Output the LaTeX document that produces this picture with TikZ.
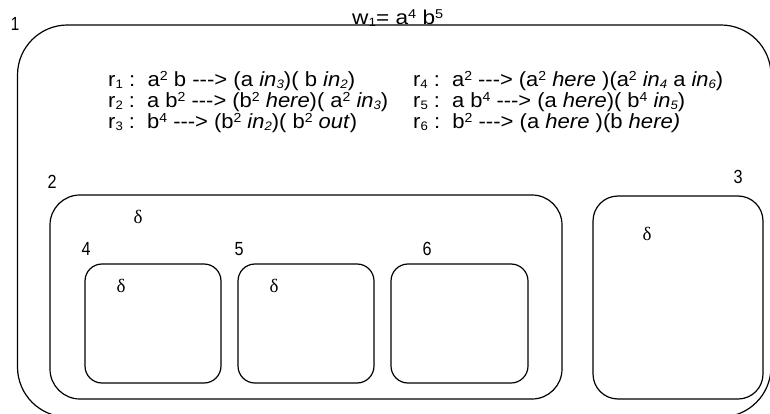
\documentclass[tikz,border=0pt]{standalone}
\usepackage{fontspec}
\setmainfont{Liberation Sans}
\newfontfamily\serifdelta{Liberation Serif}
\newcommand{\arr}{\mbox{-}\mbox{-}\mbox{-}>}
\newcommand{\sps}[1]{\raisebox{0.32em}{\fontsize{0.64em}{1em}\selectfont #1}}
\newcommand{\sbs}[1]{\raisebox{-0.08em}{\fontsize{0.6em}{1em}\selectfont #1}}
\newsavebox\fitbox
\newcommand{\fitw}[2]{\sbox\fitbox{#2}\edef\fitnat{\the\wd\fitbox}\pgfmathsetmacro\fitsc{#1/\fitnat}\scalebox{\fitsc}[1]{\usebox\fitbox}}
\begin{document}
\begin{tikzpicture}[x=1pt,y=-1pt,
  membrane/.style={draw=black,line width=1.2pt},
  lbl/.style={inner sep=0pt,font=\fontsize{19}{20}\selectfont},
  dlt/.style={inner sep=0pt,font=\serifdelta\fontsize{19}{20}\selectfont},
  rule/.style={inner sep=0pt,anchor=base west,font=\fontsize{20.5}{22}\selectfont}]
\useasboundingbox (0,0) rectangle (770,414);
\clip (0,0) rectangle (770,414);
% outer membrane 1
\draw[membrane,rounded corners=50pt] (17.5,25) rectangle (771,417);
\node[lbl] (l1) at (15,24) {\fitw{8.5}{1}};
\node[inner sep=0pt,anchor=base west,font=\fontsize{20}{22}\selectfont] (w) at (352,24.5) {\fitw{91}{w\sbs{1}= a\sps{4} b\sps{5}}};
% rules
\node[rule] (r1) at (108,87) {\fitw{247}{r\sbs{1} :\ \ a\sps{2} b \arr{} (a \textit{in\sbs{3}})( b \textit{in\sbs{2}})}};
\node[rule] (r2) at (108,108) {\fitw{280}{r\sbs{2} :\ \ a b\sps{2} \arr{} (b\sps{2} \textit{here})( a\sps{2} \textit{in\sbs{3}})}};
\node[rule] (r3) at (108,129) {\fitw{249}{r\sbs{3} :\ \ b\sps{4} \arr{} (b\sps{2} \textit{in\sbs{2}})( b\sps{2} \textit{out})}};
\node[rule] (r4) at (413,87) {\fitw{310}{r\sbs{4} :\ \ a\sps{2} \arr{} (a\sps{2} \textit{here} )(a\sps{2} \textit{in\sbs{4}} a \textit{in\sbs{6}})}};
\node[rule] (r5) at (413,108) {\fitw{272}{r\sbs{5} :\ \ a b\sps{4} \arr{} (a \textit{here})( b\sps{4} \textit{in\sbs{5}})}};
\node[rule] (r6) at (413,129) {\fitw{267}{r\sbs{6} :\ \ b\sps{2} \arr{} (a \textit{here} )(b \textit{here)}}};
% membrane 2
\draw[membrane,rounded corners=30pt] (50,195) rectangle (562,399);
\node[lbl] (l2) at (52,182) {\fitw{9}{2}};
\node[dlt] (d2) at (138,217) {δ};
% membrane 4
\draw[membrane,rounded corners=17pt] (85,264) rectangle (221,383);
\node[lbl] (l4) at (86,249) {\fitw{9}{4}};
\node[dlt] (d4) at (121,286) {δ};
% membrane 5
\draw[membrane,rounded corners=17pt] (238,264) rectangle (374,383);
\node[lbl] (l5) at (239,249) {\fitw{9}{5}};
\node[dlt] (d5) at (274,286) {δ};
% membrane 6
\draw[membrane,rounded corners=17pt] (391,264) rectangle (528,383);
\node[lbl] (l6) at (427,249) {\fitw{9}{6}};
% membrane 3
\draw[membrane,rounded corners=25pt] (593,196) rectangle (763,399);
\node[lbl] (l3) at (738,177) {\fitw{9}{3}};
\node[dlt] (d3) at (647,234) {δ};
\end{tikzpicture}
\end{document}
